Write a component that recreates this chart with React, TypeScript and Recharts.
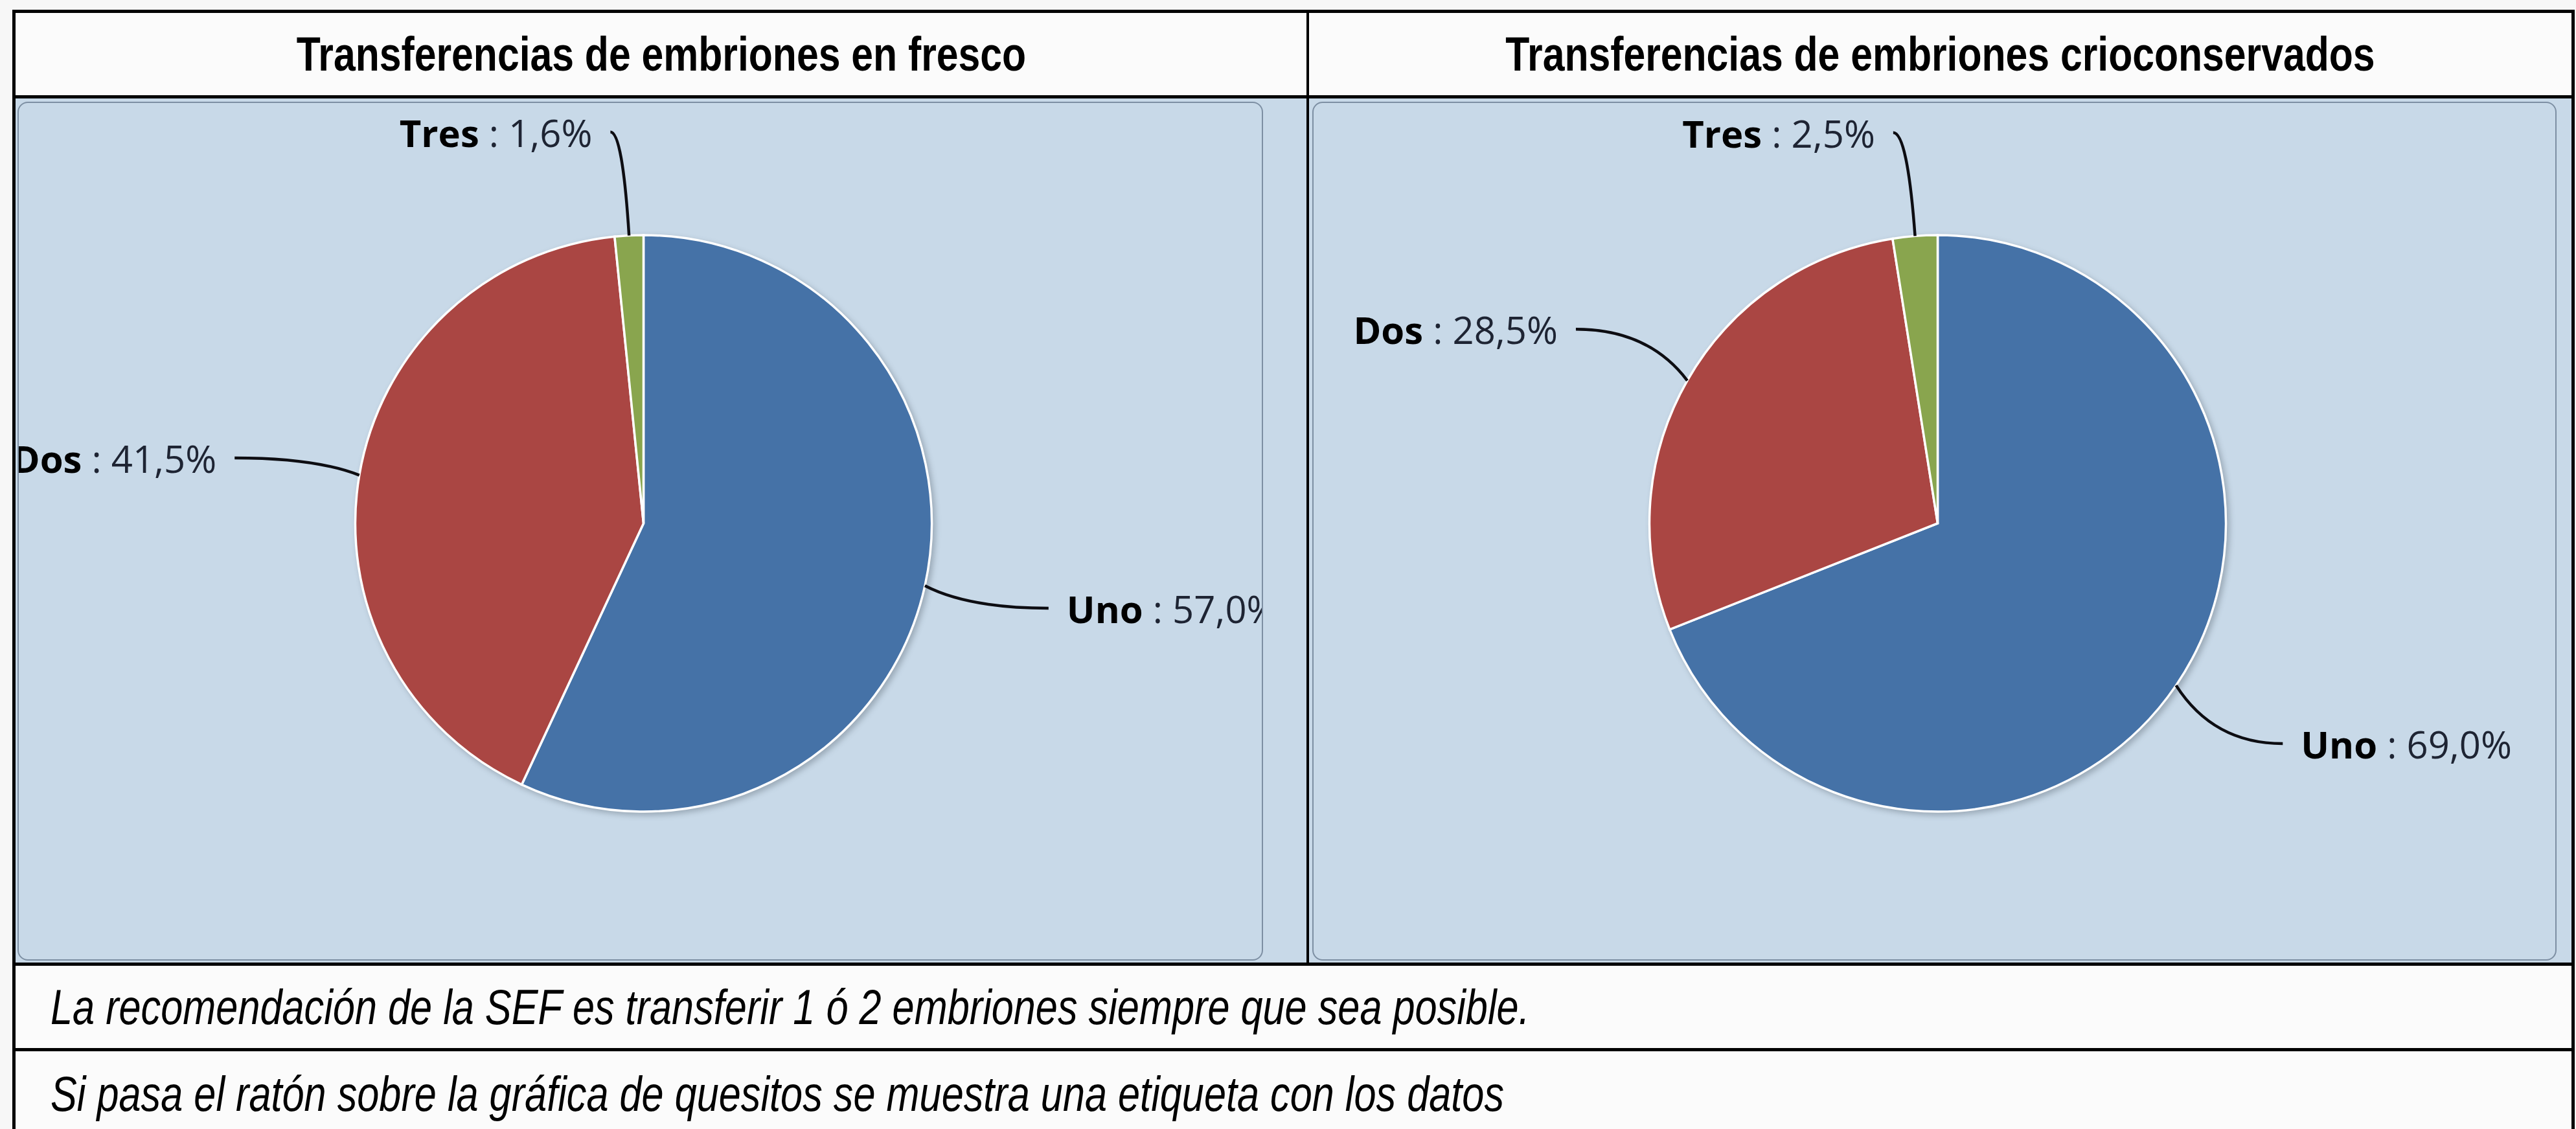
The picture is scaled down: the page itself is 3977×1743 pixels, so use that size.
import React from "react";
import { PieChart, Pie, Cell } from "recharts";

// datos
const sliceNames = ["Uno", "Dos", "Tres"];
const frescoValues = [57.0, 41.5, 1.6];
const crioValues = [69.0, 28.5, 2.5];
const chartTitles = [
  "Transferencias de embriones en fresco",
  "Transferencias de embriones crioconservados",
];
const footNotes = [
  "La recomendación de la SEF es transferir 1 ó 2 embriones siempre que sea posible.",
  "Si pasa el ratón sobre la gráfica de quesitos se muestra una etiqueta con los datos",
];

const COLORS = ["#4572A7", "#AA4643", "#89A54E"];
const PANEL_BG = "#c8d9e8";
const ARIAL = '"Liberation Sans", Arial, sans-serif';
const LABEL_FONT = '"Open Sans", Lato, sans-serif';
const RAD = Math.PI / 180;
const PIE_CY = 644;
const PIE_R = 445;

const buildData = (values: number[]) =>
  sliceNames.map((name, i) => ({ name, value: values[i] }));

const fmt = (v: number) => v.toFixed(1).replace(".", ",") + "%";

function renderLabel(props: any) {
  const { cx, cy, midAngle, outerRadius, name, value } = props;
  const cos = Math.cos(-midAngle * RAD);
  const sin = Math.sin(-midAngle * RAD);
  const px = cx + outerRadius * cos;
  const py = cy + outerRadius * sin;
  const side = cos >= 0 ? 1 : -1;
  const ex = px + cos * 175 + side * 20;
  const ey = py + sin * 160;
  const qx = px + (ex - px) * 0.35;
  const tx = ex + side * 28;
  return (
    <g>
      <path
        d={`M${px},${py} Q${qx},${ey} ${ex},${ey}`}
        stroke="#0d0d12"
        strokeWidth={4.5}
        fill="none"
      />
      <text
        x={tx}
        y={ey}
        textAnchor={side > 0 ? "start" : "end"}
        dominantBaseline="central"
        fontFamily={LABEL_FONT}
        fontSize={58}
      >
        <tspan fontWeight="bold" fill="#000">{name}</tspan>
        <tspan fill="#1e2433">{` : ${fmt(value)}`}</tspan>
      </text>
    </g>
  );
}

function PiePanel({ values, left, width }: { values: number[]; left: number; width: number }) {
  const data = buildData(values);
  const w = width - 4;
  return (
    <div
      style={{
        position: "absolute",
        left,
        top: 157,
        width,
        height: 1326,
        background: PANEL_BG,
        border: "2px solid #7d8fa3",
        borderRadius: 16,
        boxSizing: "border-box",
        overflow: "hidden",
      }}
    >
      <PieChart width={w} height={1322}>
        {/* sombra */}
        <Pie
          data={data}
          dataKey="value"
          nameKey="name"
          cx={w / 2 + 4}
          cy={PIE_CY + 4}
          outerRadius={PIE_R + 2}
          startAngle={90}
          endAngle={-270}
          stroke="none"
          isAnimationActive={false}
        >
          {data.map((d) => (
            <Cell key={d.name} fill="rgba(40,50,60,0.28)" style={{ filter: "blur(4px)" }} />
          ))}
        </Pie>
        <Pie
          data={data}
          dataKey="value"
          nameKey="name"
          cx={w / 2}
          cy={PIE_CY}
          outerRadius={PIE_R}
          startAngle={90}
          endAngle={-270}
          stroke="#ffffff"
          strokeWidth={3.5}
          label={renderLabel}
          labelLine={false}
          isAnimationActive={false}
        >
          {data.map((d, i) => (
            <Cell key={d.name} fill={COLORS[i]} />
          ))}
        </Pie>
      </PieChart>
    </div>
  );
}

const line = (s: React.CSSProperties): React.CSSProperties => ({
  position: "absolute",
  background: "#000",
  ...s,
});

// texto estrecho tipo Arial Narrow
const narrow = (t: string, origin: string, sx: number) => (
  <span style={{ display: "inline-block", transform: `scaleX(${sx})`, transformOrigin: origin, whiteSpace: "nowrap" }}>
    {t}
  </span>
);

export default function App() {
  return (
    <div
      style={{
        position: "absolute",
        left: 0,
        top: 0,
        width: 3977,
        height: 1743,
        overflow: "hidden",
        background: "#f7f7f7",
      }}
    >
      {/* cabecera */}
      {chartTitles.map((t, i) => (
        <div
          key={t}
          style={{
            position: "absolute",
            left: i === 0 ? 24 : 2021,
            top: 20,
            width: i === 0 ? 1993 : 1949,
            height: 127,
            background: "#fbfbfb",
            display: "flex",
            alignItems: "center",
            justifyContent: "center",
            fontFamily: ARIAL,
            fontWeight: "bold",
            fontSize: 74,
            color: "#000",
          }}
        >
          {narrow(t, "center", 0.82)}
        </div>
      ))}

      {/* fondo celdas gráficas */}
      <div style={{ position: "absolute", left: 24, top: 152, width: 1993, height: 1334, background: PANEL_BG }} />
      <div style={{ position: "absolute", left: 2021, top: 152, width: 1949, height: 1334, background: PANEL_BG }} />

      <PiePanel values={frescoValues} left={27} width={1923} />
      <PiePanel values={crioValues} left={2026} width={1921} />

      {/* notas */}
      {footNotes.map((t, i) => (
        <div
          key={t}
          style={{
            position: "absolute",
            left: 24,
            top: i === 0 ? 1491 : 1623,
            width: 3946,
            height: i === 0 ? 127 : 130,
            background: "#fbfbfb",
            display: "flex",
            alignItems: "center",
            paddingLeft: 54,
            boxSizing: "border-box",
            fontFamily: ARIAL,
            fontStyle: "italic",
            fontSize: 76,
            color: "#000",
          }}
        >
          {narrow(t, "left center", 0.806)}
        </div>
      ))}

      {/* bordes de la tabla */}
      <div style={line({ left: 19, top: 15, width: 3956, height: 5 })} />
      <div style={line({ left: 19, top: 147, width: 3956, height: 5 })} />
      <div style={line({ left: 19, top: 1486, width: 3956, height: 5 })} />
      <div style={line({ left: 19, top: 1618, width: 3956, height: 5 })} />
      <div style={line({ left: 19, top: 15, width: 5, height: 1800 })} />
      <div style={line({ left: 3970, top: 15, width: 5, height: 1800 })} />
      <div style={line({ left: 2017, top: 15, width: 4, height: 1474 })} />
    </div>
  );
}
